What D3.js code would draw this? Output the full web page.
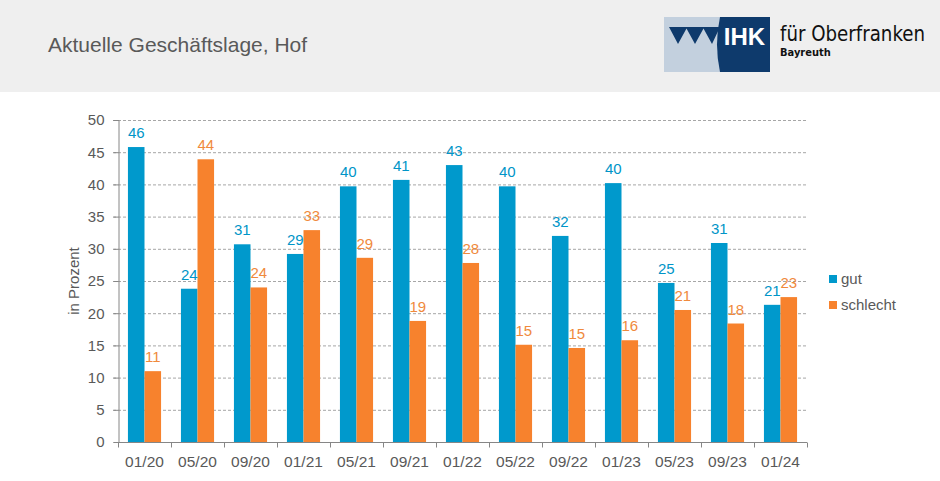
<!DOCTYPE html>
<html>
<head>
<meta charset="utf-8">
<script src="https://cdn.jsdelivr.net/npm/d3@7/dist/d3.min.js"></script>
<style>
  html, body { margin: 0; padding: 0; background: #ffffff; }
  svg { display: block; font-family: "Liberation Sans", Arial, sans-serif; }
</style>
</head>
<body>
<svg id="chart" width="940" height="481"></svg>
<script>
const categories = ["01/20","05/20","09/20","01/21","05/21","09/21","01/22","05/22","09/22","01/23","05/23","09/23","01/24"];
const gutValues      = [45.8, 23.8, 30.7, 29.2, 39.7, 40.7, 43.0, 39.7, 32.0, 40.2, 24.7, 30.9, 21.3];
const schlechtValues = [11.0, 43.9, 24.0, 32.9, 28.6, 18.8, 27.8, 15.1, 14.6, 15.8, 20.5, 18.4, 22.5];
const seriesNames = ["gut", "schlecht"];
const seriesColors = ["#0099cc", "#f7822d"];
const labelColors = ["#0095c8", "#f08a3c"];
const yTicks = [0, 5, 10, 15, 20, 25, 30, 35, 40, 45, 50];
const titleText = "Aktuelle Geschäftslage, Hof";
const yAxisTitle = "in Prozent";

const svg = d3.select("#chart");

// header
svg.append("rect").attr("x", 0).attr("y", 0).attr("width", 940).attr("height", 92).attr("fill", "#efefef");
svg.append("text").attr("x", 48).attr("y", 52).attr("font-size", 21).attr("fill", "#595959").text(titleText);

// logo
const logo = svg.append("g");
logo.append("rect").attr("x", 664).attr("y", 17).attr("width", 58).attr("height", 55).attr("fill", "#c3d0de");
logo.append("path").attr("d", "M720,17 L770,17 L770,72 L720,72 Q714,44.5 720,17 Z").attr("fill", "#0e3a6c");
logo.append("path")
  .attr("d", "M669,27 L720,27 L712,44 L703.5,28.5 L695,44 L686.5,28.5 L678,44 Z")
  .attr("fill", "#0e3a6c");
logo.append("text").attr("x", 744.5).attr("y", 45).attr("text-anchor", "middle")
  .attr("font-size", 24).attr("font-weight", "bold").attr("fill", "#ffffff").text("IHK");
logo.append("text").attr("x", 780).attr("y", 41).attr("font-family", "'DejaVu Sans Condensed', 'Open Sans', sans-serif")
  .attr("font-size", 22).attr("fill", "#111111").attr("textLength", 145).attr("lengthAdjust", "spacingAndGlyphs").text("für Oberfranken");
logo.append("text").attr("x", 780).attr("y", 56).attr("font-family", "'DejaVu Sans Condensed', 'Open Sans', sans-serif")
  .attr("font-size", 11).attr("font-weight", "bold").attr("fill", "#111111").text("Bayreuth");

// scales
const plotLeft = 118, plotRight = 807, plotTop = 120, plotBottom = 442;
const x0 = d3.scaleBand().domain(categories).range([plotLeft, plotRight]).paddingInner(0).paddingOuter(0);
const x1 = d3.scaleBand().domain(seriesNames).range([0, x0.bandwidth()]).paddingInner(0).paddingOuter(0.6);
const y = d3.scaleLinear().domain([0, 50]).range([plotBottom, plotTop]);

// gridlines
svg.append("g").selectAll("line").data(yTicks.filter(t => t > 0)).join("line")
  .attr("x1", plotLeft - 5).attr("x2", plotRight)
  .attr("y1", d => y(d) + 0.5).attr("y2", d => y(d) + 0.5)
  .attr("stroke", "#a6a6a6").attr("stroke-width", 1).attr("stroke-dasharray", "3,2");

// y axis
const yAxis = svg.append("g").attr("transform", `translate(${plotLeft + 0.5},0)`)
  .call(d3.axisLeft(y).tickValues(yTicks).tickSize(5).tickPadding(9));
yAxis.select(".domain").attr("stroke", "#868686");
yAxis.selectAll(".tick line").attr("stroke", "#868686");
yAxis.selectAll("text").attr("font-size", 15).attr("fill", "#595959").attr("font-family", "'Liberation Sans', Arial, sans-serif");

// x axis
const xAxisG = svg.append("g").attr("transform", `translate(0,${plotBottom + 0.5})`);
xAxisG.append("line").attr("x1", plotLeft).attr("x2", plotRight).attr("stroke", "#868686");
const bounds = categories.map(c => x0(c)).concat([plotRight]);
xAxisG.selectAll("line.tk").data(bounds).join("line").attr("class", "tk")
  .attr("x1", d => Math.round(d) + 0.5).attr("x2", d => Math.round(d) + 0.5).attr("y1", 0).attr("y2", 5)
  .attr("stroke", "#868686");
xAxisG.selectAll("text").data(categories).join("text")
  .attr("x", d => x0(d) + x0.bandwidth() / 2).attr("y", 24)
  .attr("text-anchor", "middle").attr("font-size", 15.5).attr("fill", "#595959").text(d => d);

// bars
const rows = categories.map((c, i) => ({ cat: c, vals: [gutValues[i], schlechtValues[i]] }));
const groups = svg.append("g").selectAll("g").data(rows).join("g")
  .attr("transform", d => `translate(${x0(d.cat)},0)`);
groups.selectAll("rect").data(d => d.vals.map((v, j) => ({ s: seriesNames[j], v, j }))).join("rect")
  .attr("x", d => x1(d.s)).attr("width", x1.bandwidth())
  .attr("y", d => y(d.v)).attr("height", d => y(0) - y(d.v))
  .attr("fill", d => seriesColors[d.j]);
groups.selectAll("text").data(d => d.vals.map((v, j) => ({ s: seriesNames[j], v, j }))).join("text")
  .attr("x", d => x1(d.s) + x1.bandwidth() / 2).attr("y", d => y(d.v) - 9)
  .attr("text-anchor", "middle").attr("font-size", 15).attr("fill", d => labelColors[d.j])
  .text(d => Math.round(d.v));

// y axis title
svg.append("text").attr("transform", `translate(79,${(plotTop + plotBottom) / 2}) rotate(-90)`)
  .attr("text-anchor", "middle").attr("font-size", 15).attr("fill", "#595959").text(yAxisTitle);

// legend
const legend = svg.append("g");
seriesNames.forEach((s, i) => {
  const ly = 275 + i * 26;
  legend.append("rect").attr("x", 829).attr("y", ly).attr("width", 8).attr("height", 8).attr("fill", seriesColors[i]);
  legend.append("text").attr("x", 841).attr("y", ly + 9).attr("font-size", 15).attr("fill", "#595959").text(s);
});
</script>
</body>
</html>
